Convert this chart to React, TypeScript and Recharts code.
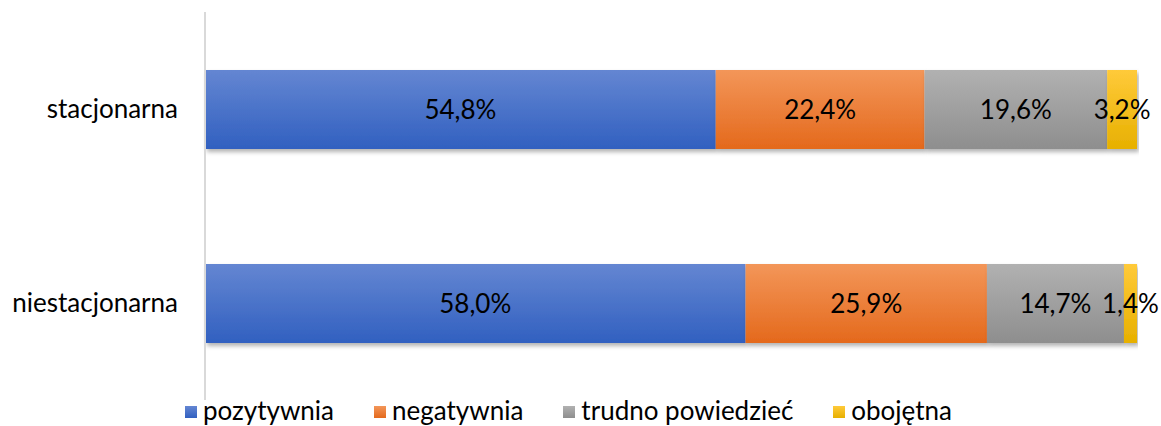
import React from 'react';
import { BarChart, Bar, XAxis, YAxis, Legend, LabelList } from 'recharts';

const categories = ['stacjonarna', 'niestacjonarna'];
const pozytywnia = [54.8, 58.0];
const negatywnia = [22.4, 25.9];
const trudno = [19.6, 14.7];
const obojetna = [3.2, 1.4];

const seriesNames = ['pozytywnia', 'negatywnia', 'trudno powiedzieć', 'obojętna'];
const seriesKeys = ['poz', 'neg', 'tru', 'obo'];
const gradients = [
  { id: 'gBlue', top: '#6486d2', bottom: '#3160c0' },
  { id: 'gOrange', top: '#f39659', bottom: '#e4691c' },
  { id: 'gGray', top: '#b1b1b1', bottom: '#8e8e8e' },
  { id: 'gYellow', top: '#ffca3a', bottom: '#e7b000' },
];

const data = categories.map((c, i) => ({
  name: c,
  poz: pozytywnia[i],
  neg: negatywnia[i],
  tru: trudno[i],
  obo: obojetna[i],
}));

const FONT = 'Lato, "Open Sans", sans-serif';

const fmt = (v: any) => Number(v).toFixed(1).replace('.', ',') + '%';

const LegendContent = () => (
  <div
    style={{
      display: 'flex',
      justifyContent: 'center',
      alignItems: 'center',
      fontFamily: FONT,
      fontSize: 26,
      lineHeight: '26px',
      height: 26,
      color: '#000',
      marginTop: -3,
      paddingLeft: 0,
    }}
  >
    {seriesNames.map((n, i) => (
      <div key={n} style={{ display: 'flex', alignItems: 'center', marginRight: i < 3 ? 40 : 0 }}>
        <div
          style={{
            width: 12,
            height: 12,
            background: `linear-gradient(${gradients[i].top}, ${gradients[i].bottom})`,
            marginRight: 6,
            marginTop: 4,
          }}
        />
        <span>{n}</span>
      </div>
    ))}
  </div>
);

export default function App() {
  return (
    <div style={{ position: 'absolute', left: 0, top: 0, width: 1161, height: 426, background: '#fff', overflow: 'hidden' }}>
      <BarChart
        width={1161}
        height={426}
        data={data}
        layout="vertical"
        margin={{ top: 12, right: 24, bottom: 0, left: 0 }}
        barSize={79}
      >
        <defs>
          {gradients.map((g) => (
            <linearGradient key={g.id} id={g.id} x1="0" y1="0" x2="0" y2="1">
              <stop offset="0%" stopColor={g.top} />
              <stop offset="100%" stopColor={g.bottom} />
            </linearGradient>
          ))}
          <filter id="shadow" x="-5%" y="-20%" width="110%" height="150%">
            <feDropShadow dx="2" dy="3" stdDeviation="2" floodColor="#000" floodOpacity="0.3" />
          </filter>
        </defs>
        <XAxis type="number" domain={[0, 100]} hide />
        <YAxis
          type="category"
          dataKey="name"
          width={205}
          axisLine={{ stroke: '#d9d9d9', strokeWidth: 2 }}
          tickLine={false}
          tickMargin={21}
          tick={{ fill: '#000', fontSize: 26, fontFamily: FONT }}
        />
        <Legend verticalAlign="bottom" height={26} content={<LegendContent />} />
        {seriesKeys.map((k, i) => (
          <Bar
            key={k}
            dataKey={k}
            name={seriesNames[i]}
            stackId="a"
            fill={`url(#${gradients[i].id})`}
            isAnimationActive={false}
            style={{ filter: 'url(#shadow)' }}
          >
            <LabelList
              dataKey={k}
              position="center"
              formatter={fmt}
              style={{ fill: '#000', fontSize: 26, fontFamily: FONT }}
            />
          </Bar>
        ))}
      </BarChart>
    </div>
  );
}
